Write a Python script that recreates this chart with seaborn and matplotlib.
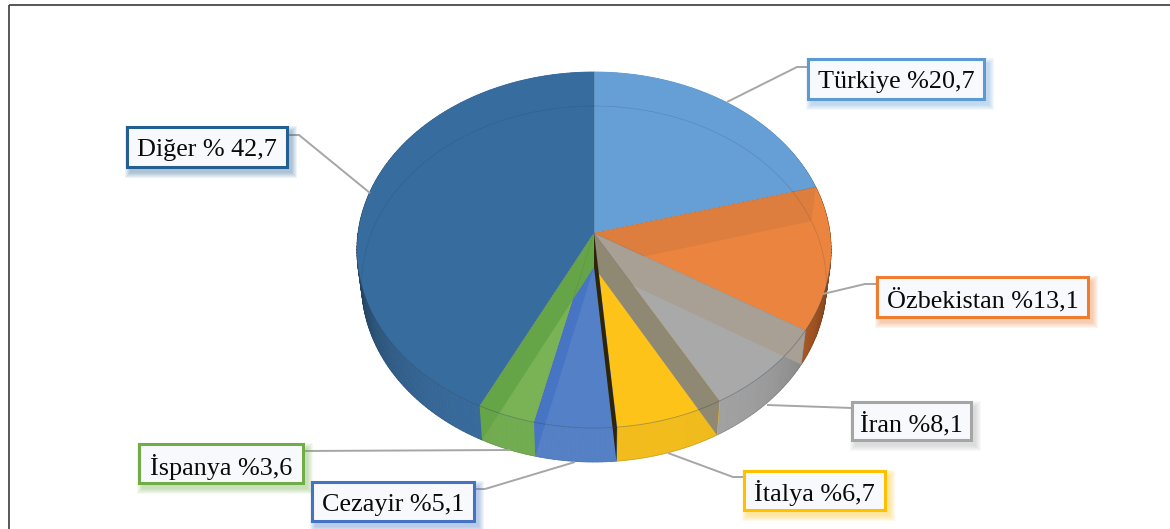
import numpy as np
import matplotlib
matplotlib.use('Agg')
import matplotlib.pyplot as plt
from matplotlib.patches import Rectangle
import seaborn as sns

# 1. Chart data
countries = ['Türkiye', 'Özbekistan', 'İran', 'İtalya', 'Cezayir', 'İspanya', 'Diğer']
shares = [20.7, 13.1, 8.1, 6.7, 5.1, 3.6, 42.7]
labels = ['Türkiye %20,7', 'Özbekistan %13,1', 'İran %8,1', 'İtalya %6,7',
          'Cezayir %5,1', 'İspanya %3,6', 'Diğer % 42,7']

top_colors = ['#659fd5', '#ea843f', '#a9a9a9', '#fec319', '#5480c8', '#79b356', '#376c9e']
side_colors = ['#5b9bd5', '#c9682a', '#a3a3a3', '#f1bc1c', '#5580c5', '#72ac50', '#386b9c']
border_colors = ['#5b9bd5', '#ed7d31', '#a5a5a5', '#ffc000', '#4472c4', '#70ad47', '#255e91']
# the cut face seen through the next slice
wall_colors = ['#dd7e3e', '#a89f95', '#8f8873', '#2e2408', '#4775c4', '#66a547']

# 2. Layout, in picture pixels
CX, CY = 594, 233
RX, RY, TILT = 236, 154.1, 0.0955
DEPTH, SHRINK = 34, 0.98

boxes = [(808, 59, 176, 40), (877, 277, 211, 40), (852, 402, 119, 38), (744, 471, 141, 39),
         (312, 482, 162, 39), (139, 444, 164, 39), (127, 127, 160, 40)]
leaders = [[(808, 67), (797, 67), (727, 102)],
           [(877, 284), (865, 284), (823, 294)],
           [(852, 408), (767, 405)],
           [(744, 477), (733, 477), (668, 453)],
           [(474, 489), (485, 489), (575, 462)],
           [(303, 451), (510, 450)],
           [(287, 135), (299, 135), (370, 193)]]


def rim(angle, lower=False):
    # clockwise angle from the top of the disc, through a simple perspective
    w = 1 + TILT * np.cos(angle)
    x = RX * np.sin(angle) / w
    y = (CY - RY * np.cos(angle)) / w
    if lower:
        return CX + x * SHRINK, y + DEPTH
    return CX + x, y


def shade(color, amount):
    return tuple(c * amount for c in matplotlib.colors.to_rgb(color))


sns.set_theme(style='white')
plt.rcParams['font.family'] = ['Liberation Serif', 'DejaVu Serif']

fig, ax = plt.subplots(figsize=(11.7, 5.29), dpi=100)
ax.set_position([0, 0, 1, 1])
ax.set_xlim(0, 1170)
ax.set_ylim(529, 0)
ax.axis('off')

ax.add_patch(Rectangle((8.5, 5), 1200, 540, fill=False, ec='#4a4a4a', lw=1.3, zorder=0))

edges = np.radians(np.cumsum([0] + shares) * 3.6)
top_palette = sns.color_palette(top_colors)
side_palette = sns.color_palette(side_colors)
border_palette = sns.color_palette(border_colors)

# 3. Outer wall, split in small strips so it darkens towards the sides
for i in range(len(shares)):
    steps = np.linspace(edges[i], edges[i + 1], max(2, int(np.degrees(edges[i + 1] - edges[i]))))
    for a, b in zip(steps[:-1], steps[1:]):
        mid = (a + b) / 2
        amount = 1 - 0.38 * abs(np.sin(mid)) ** 5
        xs, ys = zip(rim(a), rim(b), rim(b, True), rim(a, True))
        ax.fill(xs, ys, color=shade(side_palette[i], amount), lw=0.6, zorder=1)

# 4. Top of the slices
for i in range(len(shares)):
    steps = np.linspace(edges[i], edges[i + 1], 120)
    px, py = rim(steps)
    ax.fill(np.r_[CX, px], np.r_[CY, py], color=top_palette[i], lw=0, zorder=2)

# 5. Cut faces showing through the top
for i, color in enumerate(wall_colors):
    a = edges[i + 1]
    xs, ys = zip((CX, CY), rim(a), rim(a, True), (CX, CY + DEPTH))
    ax.fill(xs, ys, color=color, lw=0, zorder=3)

# 6. Thin rim lines, the top rim only on the front half
front = np.radians(np.linspace(100, 260, 161))
full = np.linspace(0, 2 * np.pi, 361)
ax.plot(*rim(front), color='#30475e', lw=0.6, alpha=0.4, zorder=4)
ax.plot(*rim(full, True), color='#24384d', lw=0.5, alpha=0.2, zorder=4)
for a in edges[:-1]:
    x, y = rim(a)
    ax.plot([CX, x], [CY, y], color='#4a4a4a', lw=0.4, alpha=0.25, zorder=4)

# 7. Leader lines and label boxes
for pts in leaders:
    ax.plot(*zip(*pts), color='#a6a6a6', lw=1.4, zorder=5, solid_capstyle='butt')

for label, box, color in zip(labels, boxes, border_palette):
    x, y, w, h = box
    for grow in np.arange(6, 0, -1):
        ax.add_patch(Rectangle((x + 4 - grow, y + 5 - grow), w + 2 * grow, h + 2 * grow, fc=color,
                               ec='none', alpha=0.07, zorder=6))
    ax.add_patch(Rectangle((x, y), w, h, fc='#f8f9fc', ec=color, lw=2.2, zorder=7))
    ax.text(x + w / 2, y + h / 2 + 3, label, ha='center', va='center', fontsize=18.8,
            color='#0a0a0a', zorder=8)

fig.savefig('out.png', dpi=100)
